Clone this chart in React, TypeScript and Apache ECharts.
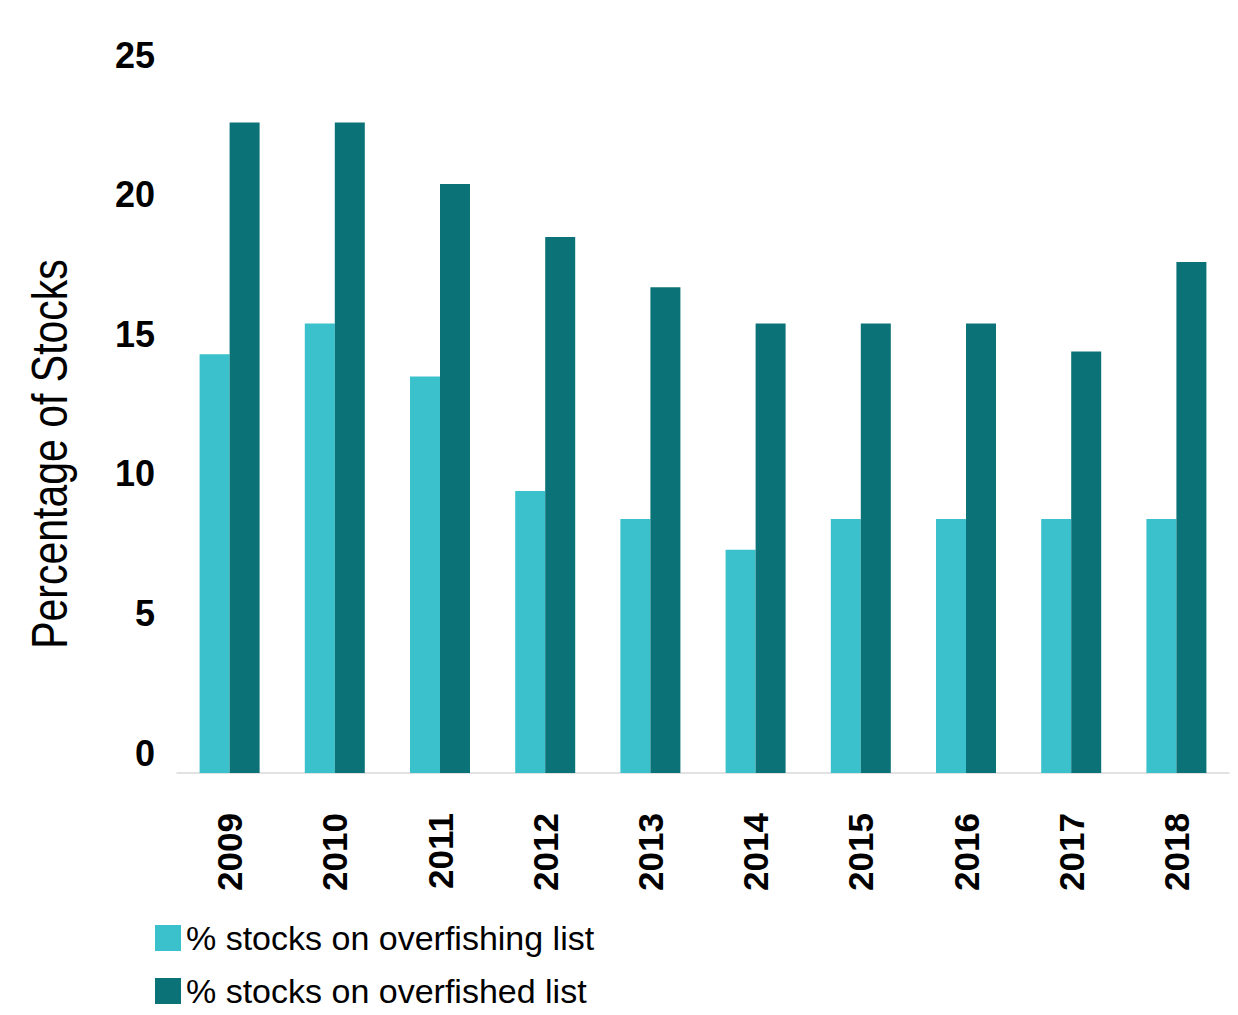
import React, { useEffect, useRef } from "react";
import * as echarts from "echarts";

const years = ["2009", "2010", "2011", "2012", "2013", "2014", "2015", "2016", "2017", "2018"];
const overfishing = [15.0, 16.1, 14.2, 10.1, 9.1, 8.0, 9.1, 9.1, 9.1, 9.1];
const overfished = [23.3, 23.3, 21.1, 19.2, 17.4, 16.1, 16.1, 16.1, 15.1, 18.3];
const seriesNames = ["% stocks on overfishing list", "% stocks on overfished list"];
const yTitle = "Percentage of Stocks";

const FONT = "'Liberation Sans', Arial, sans-serif";

export default function App() {
  const ref = useRef<HTMLDivElement>(null);
  useEffect(() => {
    if (!ref.current) return;
    const chart = echarts.init(ref.current, undefined, { renderer: "svg" });
    chart.setOption({
      animation: false,
      backgroundColor: "#ffffff",
      grid: { left: 177, top: 75, width: 1052, height: 698, containLabel: false },
      legend: {
        orient: "vertical",
        left: 155,
        top: 916,
        padding: 0,
        itemWidth: 26,
        itemHeight: 26,
        itemGap: 9,
        icon: "rect",
        textStyle: { fontFamily: FONT, fontSize: 34, lineHeight: 44, color: "#000" },
        data: seriesNames,
      },
      xAxis: {
        type: "category",
        data: years,
        axisLine: { show: true, lineStyle: { color: "#D9D9D9", width: 1.5 } },
        axisTick: { show: false },
        axisLabel: {
          rotate: 90,
          margin: 40,
          interval: 0,
          fontFamily: FONT,
          fontWeight: "bold",
          fontSize: 35,
          color: "#000",
        },
      },
      yAxis: {
        type: "value",
        min: 0,
        max: 25,
        interval: 5,
        axisLine: { show: false },
        axisTick: { show: false },
        splitLine: { show: false },
        axisLabel: {
          margin: 22,
          fontFamily: FONT,
          fontWeight: "bold",
          fontSize: 36,
          lineHeight: 40,
          verticalAlign: "bottom",
          color: "#000",
        },
      },
      graphic: [
        {
          type: "text",
          x: 50,
          y: 454,
          rotation: Math.PI / 2,
          scaleX: 0.82,
          style: {
            text: yTitle,
            fontFamily: FONT,
            fontSize: 50,
            fill: "#000",
            align: "center",
            verticalAlign: "middle",
          },
        },
      ],
      series: [
        {
          name: seriesNames[0],
          type: "bar",
          data: overfishing,
          barWidth: 30,
          barGap: "0%",
          itemStyle: { color: "#3AC1CC" },
        },
        {
          name: seriesNames[1],
          type: "bar",
          data: overfished,
          barWidth: 30,
          barGap: "0%",
          itemStyle: { color: "#0B7278" },
        },
      ],
    });
    return () => chart.dispose();
  }, []);
  return (
    <div
      ref={ref}
      style={{ position: "absolute", left: 0, top: 0, width: 1238, height: 1015 }}
    />
  );
}
